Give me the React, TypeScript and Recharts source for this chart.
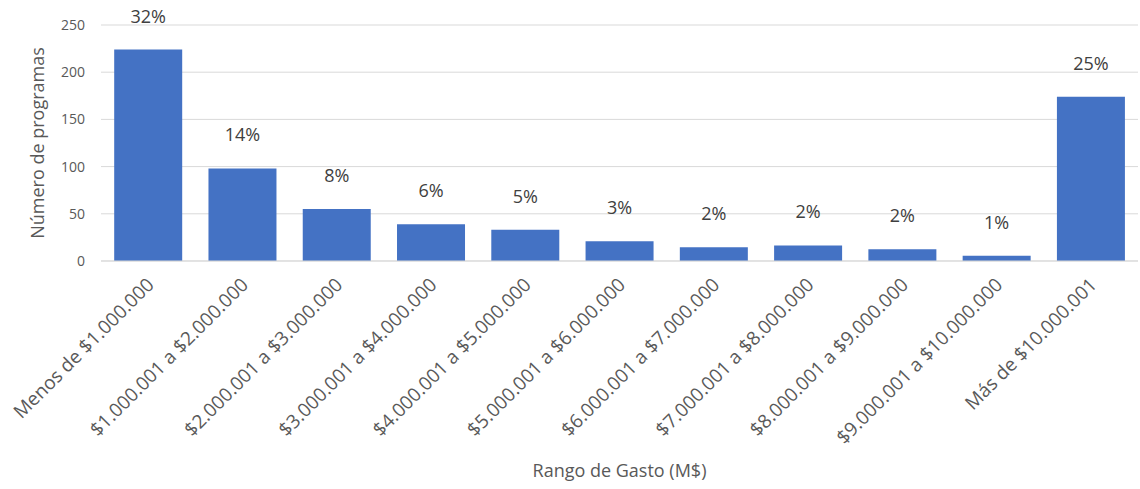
import React from 'react';
import { BarChart, Bar, XAxis, YAxis, CartesianGrid, LabelList } from 'recharts';

const categories = [
  'Menos de $1.000.000',
  '$1.000.001 a $2.000.000',
  '$2.000.001 a $3.000.000',
  '$3.000.001 a $4.000.000',
  '$4.000.001 a $5.000.000',
  '$5.000.001 a $6.000.000',
  '$6.000.001 a $7.000.000',
  '$7.000.001 a $8.000.000',
  '$8.000.001 a $9.000.000',
  '$9.000.001 a $10.000.000',
  'Más de $10.000.001',
];
const programCounts = [224, 98, 55, 39, 33, 21, 14.5, 16.5, 12.5, 5.5, 174];
const percentLabels = ['32%', '14%', '8%', '6%', '5%', '3%', '2%', '2%', '2%', '1%', '25%'];
const yTicks = [0, 50, 100, 150, 200, 250];

const data = categories.map((c, i) => ({ name: c, value: programCounts[i], pct: percentLabels[i] }));

const FONT = '"Open Sans", sans-serif';

const XTick = (props: any) => {
  const { x, y, payload } = props;
  return (
    <text
      transform={`translate(${x + 7},${y + 17}) rotate(-45)`}
      textAnchor="end"
      fill="#595959"
      fontSize={19}
      fontFamily={FONT}
    >
      {payload.value}
    </text>
  );
};

export default function App() {
  return (
    <div style={{ position: 'absolute', left: 0, top: 0, background: '#fff' }}>
      <BarChart
        width={1140}
        height={489}
        data={data}
        margin={{ top: 25, right: 2, left: 0, bottom: 0 }}
        barCategoryGap="14%"
      >
        <CartesianGrid vertical={false} stroke="#d9d9d9" strokeWidth={1} />
        <XAxis
          dataKey="name"
          interval={0}
          height={228}
          tick={<XTick />}
          tickLine={false}
          axisLine={{ stroke: '#d9d9d9' }}
          label={{
            value: 'Rango de Gasto (M$)',
            position: 'insideBottom',
            offset: 12,
            fill: '#595959',
            fontSize: 18,
            fontFamily: FONT,
          }}
        />
        <YAxis
          width={101}
          domain={[0, 250]}
          ticks={yTicks}
          tickLine={false}
          tickMargin={10}
          axisLine={false}
          tick={{ fill: '#595959', fontSize: 14, fontFamily: FONT }}
          label={{
            value: 'Número de programas',
            angle: -90,
            position: 'insideLeft',
            offset: 38,
            fill: '#595959',
            fontSize: 18,
            fontFamily: FONT,
            style: { textAnchor: 'middle' },
          }}
        />
        <Bar dataKey="value" fill="#4472c4" isAnimationActive={false}>
          <LabelList dataKey="pct" position="top" offset={27} fill="#404040" fontSize={18} fontFamily={FONT} />
        </Bar>
      </BarChart>
    </div>
  );
}
